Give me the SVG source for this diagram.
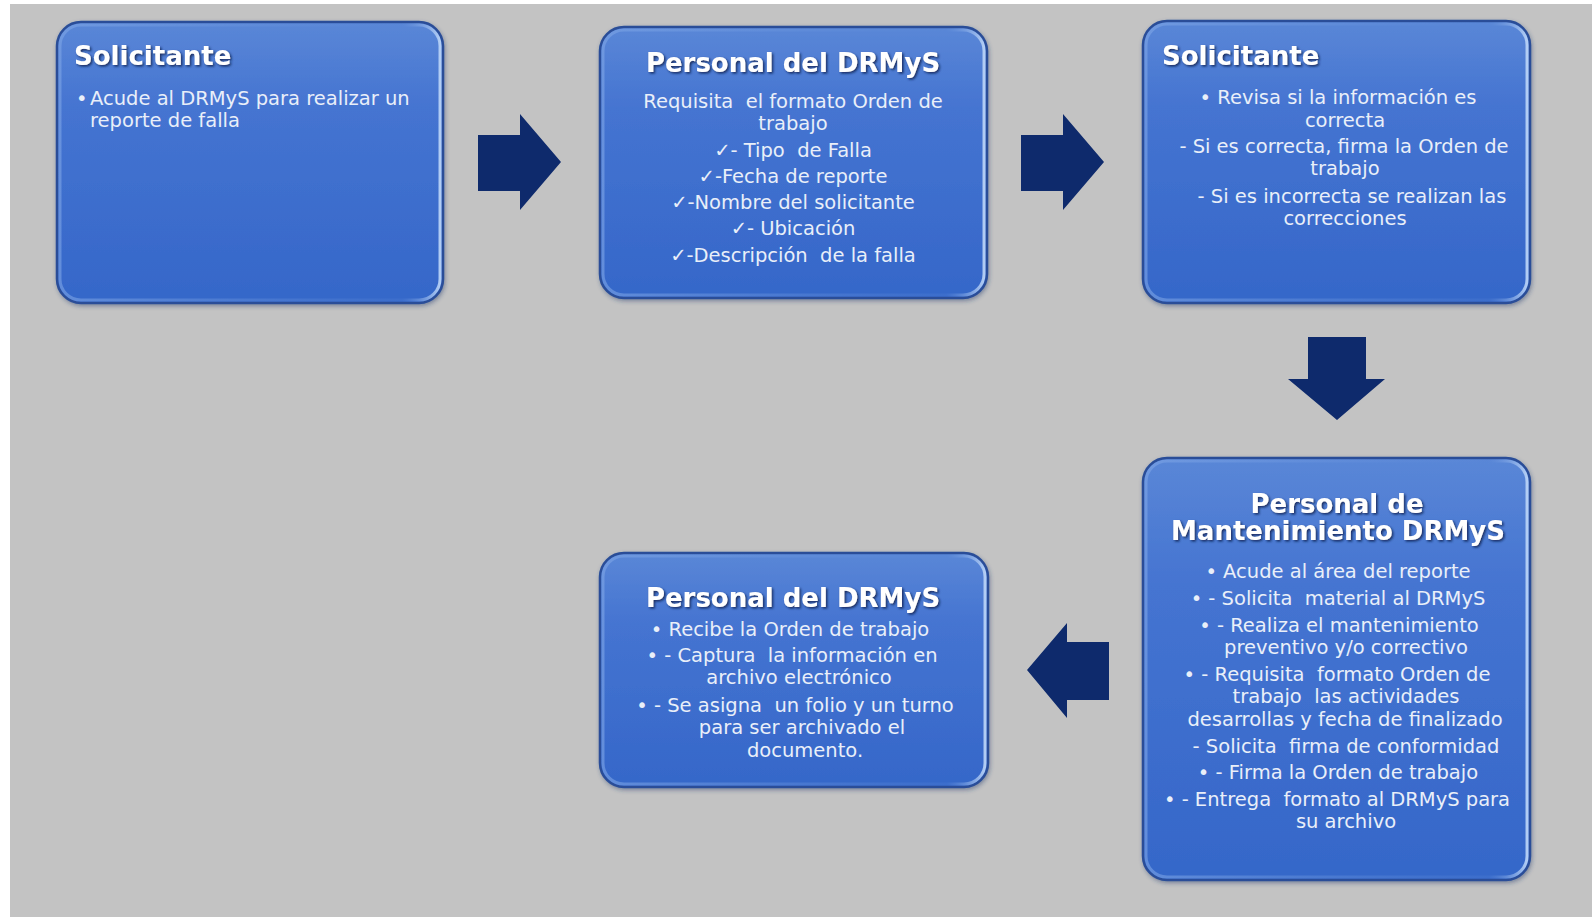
<svg xmlns="http://www.w3.org/2000/svg" width="1592" height="917" viewBox="0 0 1592 917">
<defs>
<linearGradient id="boxg" x1="0" y1="0" x2="0" y2="1">
<stop offset="0" stop-color="#5a87d7"/>
<stop offset="0.3" stop-color="#4574d1"/>
<stop offset="1" stop-color="#3567c9"/>
</linearGradient>
<linearGradient id="edge" x1="0" y1="0" x2="1" y2="0">
<stop offset="0" stop-color="#7fa6e6" stop-opacity="0.6"/>
<stop offset="0.9" stop-color="#5a86d6" stop-opacity="0.2"/>
<stop offset="1" stop-color="#b8d2f6" stop-opacity="0.95"/>
</linearGradient>
<filter id="ts" x="-10%" y="-30%" width="120%" height="160%">
<feDropShadow dx="1.5" dy="1.5" stdDeviation="1.2" flood-color="#0b1f4d" flood-opacity="0.85"/>
</filter>
<filter id="bs" x="-5%" y="-5%" width="110%" height="110%">
<feDropShadow dx="1" dy="2" stdDeviation="2" flood-color="#203a70" flood-opacity="0.45"/>
</filter>
</defs>
<style>
.box{fill:url(#boxg);stroke:#2a4e98;stroke-width:2.5}
.inner{fill:none;stroke:url(#edge);stroke-width:3}
.title{font-family:"DejaVu Sans",sans-serif;font-weight:bold;font-size:26px;fill:#ffffff}
.body{font-family:"DejaVu Sans",sans-serif;font-size:19.5px;fill:#e9eff9}
.c{text-anchor:middle}
.arrow{fill:#0e2a6c}
</style>
<rect x="0" y="0" width="1592" height="917" fill="#ffffff"/>
<rect x="10" y="4" width="1582" height="913" fill="#c3c3c3"/>

<g id="connectors">
<polygon class="arrow" points="478,135 520,135 520,114 561,162 520,210 520,191 478,191"/>
<polygon class="arrow" points="1021,135 1063,135 1063,114 1104,162 1063,210 1063,191 1021,191"/>
<polygon class="arrow" points="1308,337 1366,337 1366,379 1385,379 1337,420 1288,379 1308,379"/>
<polygon class="arrow" points="1109,642 1067,642 1067,623 1027,670 1067,718 1067,700 1109,700"/>
</g>

<g id="node1">
<rect class="box" filter="url(#bs)" x="57" y="22" width="386" height="281" rx="24"/>
<rect class="inner" x="60" y="25" width="380" height="275" rx="21"/>
<text class="title" filter="url(#ts)" x="74" y="65">Solicitante</text>
<text class="body" x="76" y="105">•</text>
<text class="body" x="90" y="105">Acude al DRMyS para realizar un</text>
<text class="body" x="90" y="127">reporte de falla</text>
</g>

<g id="node2">
<rect class="box" filter="url(#bs)" x="600" y="27" width="387" height="271" rx="24"/>
<rect class="inner" x="603" y="30" width="381" height="265" rx="21"/>
<text class="title c" filter="url(#ts)" x="793" y="72">Personal del DRMyS</text>
<text class="body c" x="793" y="108" xml:space="preserve">Requisita  el formato Orden de</text>
<text class="body c" x="793" y="130">trabajo</text>
<text class="body c" x="793" y="157" xml:space="preserve">✓- Tipo  de Falla</text>
<text class="body c" x="793" y="183">✓-Fecha de reporte</text>
<text class="body c" x="793" y="209">✓-Nombre del solicitante</text>
<text class="body c" x="793" y="235">✓- Ubicación</text>
<text class="body c" x="793" y="262" xml:space="preserve">✓-Descripción  de la falla</text>
</g>

<g id="node3">
<rect class="box" filter="url(#bs)" x="1143" y="21" width="387" height="282" rx="24"/>
<rect class="inner" x="1146" y="24" width="381" height="276" rx="21"/>
<text class="title" filter="url(#ts)" x="1162" y="65">Solicitante</text>
<text class="body c" x="1338" y="104">• Revisa si la información es</text>
<text class="body c" x="1345" y="127">correcta</text>
<text class="body c" x="1344" y="153">- Si es correcta, firma la Orden de</text>
<text class="body c" x="1345" y="175">trabajo</text>
<text class="body c" x="1352" y="203">- Si es incorrecta se realizan las</text>
<text class="body c" x="1345" y="225">correcciones</text>
</g>

<g id="node4">
<rect class="box" filter="url(#bs)" x="1143" y="458" width="387" height="422" rx="24"/>
<rect class="inner" x="1146" y="461" width="381" height="416" rx="21"/>
<text class="title c" filter="url(#ts)" x="1337" y="513">Personal de</text>
<text class="title c" filter="url(#ts)" x="1338" y="540">Mantenimiento DRMyS</text>
<text class="body c" x="1338" y="578">• Acude al área del reporte</text>
<text class="body c" x="1338" y="605" xml:space="preserve">• - Solicita  material al DRMyS</text>
<text class="body c" x="1339" y="632">• - Realiza el mantenimiento</text>
<text class="body c" x="1346" y="654">preventivo y/o correctivo</text>
<text class="body c" x="1337" y="681" xml:space="preserve">• - Requisita  formato Orden de</text>
<text class="body c" x="1346" y="703" xml:space="preserve">trabajo  las actividades</text>
<text class="body c" x="1345" y="726">desarrollas y fecha de finalizado</text>
<text class="body c" x="1346" y="753" xml:space="preserve">- Solicita  firma de conformidad</text>
<text class="body c" x="1338" y="779">• - Firma la Orden de trabajo</text>
<text class="body c" x="1337" y="806" xml:space="preserve">• - Entrega  formato al DRMyS para</text>
<text class="body c" x="1346" y="828">su archivo</text>
</g>

<g id="node5">
<rect class="box" filter="url(#bs)" x="600" y="553" width="388" height="234" rx="24"/>
<rect class="inner" x="603" y="556" width="382" height="228" rx="21"/>
<text class="title c" filter="url(#ts)" x="793" y="607">Personal del DRMyS</text>
<text class="body c" x="790" y="636">• Recibe la Orden de trabajo</text>
<text class="body c" x="792" y="662" xml:space="preserve">• - Captura  la información en</text>
<text class="body c" x="799" y="684">archivo electrónico</text>
<text class="body c" x="795" y="712" xml:space="preserve">• - Se asigna  un folio y un turno</text>
<text class="body c" x="802" y="734">para ser archivado el</text>
<text class="body c" x="805" y="757">documento.</text>
</g>
</svg>
